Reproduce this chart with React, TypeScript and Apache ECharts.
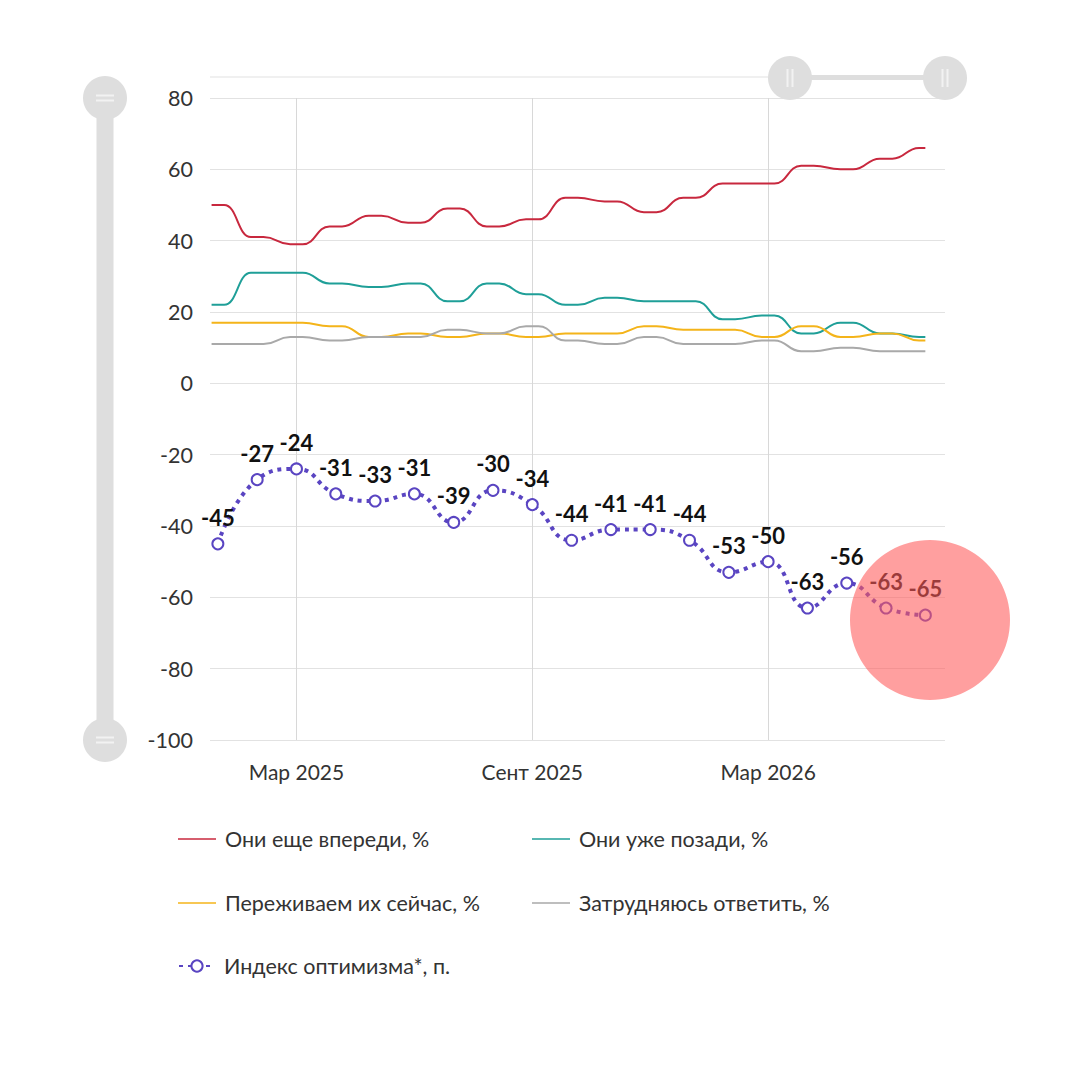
import React, { useEffect, useRef } from 'react';
import * as echarts from 'echarts';

// Months: Jan 2025 … Jul 2026 (one survey per month)
const MONTHS = [
  'Янв 2025', 'Фев 2025', 'Мар 2025', 'Апр 2025', 'Май 2025', 'Июн 2025', 'Июл 2025',
  'Авг 2025', 'Сент 2025', 'Окт 2025', 'Ноя 2025', 'Дек 2025', 'Янв 2026', 'Фев 2026',
  'Мар 2026', 'Апр 2026', 'Май 2026', 'Июн 2026', 'Июл 2026',
];
const TICK_MONTHS = ['Мар 2025', 'Сент 2025', 'Мар 2026'];

const AHEAD = [50, 41, 39, 44, 47, 45, 49, 44, 46, 52, 51, 48, 52, 56, 56, 61, 60, 63, 66];
const BEHIND = [22, 31, 31, 28, 27, 28, 23, 28, 25, 22, 24, 23, 23, 18, 19, 14, 17, 14, 13];
const NOW = [17, 17, 17, 16, 13, 14, 13, 14, 13, 14, 14, 16, 15, 15, 13, 16, 13, 14, 12];
const UNSURE = [11, 11, 13, 12, 13, 13, 15, 14, 16, 12, 11, 13, 11, 11, 12, 9, 10, 9, 9];
const INDEX = [-45, -27, -24, -31, -33, -31, -39, -30, -34, -44, -41, -41, -44, -53, -50, -63, -56, -63, -65];

const Y_MIN = -100;
const Y_MAX = 80;
const Y_STEP = 20;

const NAMES = [
  'Они еще впереди, %',
  'Они уже позади, %',
  'Переживаем их сейчас, %',
  'Затрудняюсь ответить, %',
  'Индекс оптимизма*, п.',
];
const COLORS = ['#c8283e', '#1f9f98', '#f4b41a', '#a9a9a9', '#5a45c2'];

const FONT = 'Lato, "Noto Sans", sans-serif';
const HALF = 0.16; // each survey value is held for a short span around its month

const plateau = (vals: number[]) =>
  vals.flatMap((v, i) =>
    i === vals.length - 1 ? [[i - HALF, v], [i, v]] : [[i - HALF, v], [i + HALF, v]]
  );

export default function App() {
  const ref = useRef<HTMLDivElement>(null);

  useEffect(() => {
    if (!ref.current) return;
    const chart = echarts.init(ref.current, undefined, { renderer: 'svg' });

    const tickValues = TICK_MONTHS.map((m) => MONTHS.indexOf(m));

    const lineSeries = [AHEAD, BEHIND, NOW, UNSURE].map((vals, k) => ({
      name: NAMES[k],
      type: 'line',
      data: plateau(vals),
      symbol: 'none',
      smooth: 0.5,
      smoothMonotone: 'x',
      lineStyle: { color: COLORS[k], width: 2 },
      itemStyle: { color: COLORS[k] },
      z: 2,
      ...(k === 0
        ? {
            markLine: {
              silent: true,
              symbol: 'none',
              label: { show: false },
              lineStyle: { color: '#d8d8d8', width: 1, type: 'solid' },
              data: tickValues.map((x) => ({ xAxis: x })),
              z: 1,
            },
          }
        : {}),
    }));

    const legendPos = [
      { left: 178, top: 826 },
      { left: 532, top: 826 },
      { left: 178, top: 890 },
      { left: 532, top: 890 },
      { left: 178, top: 955 },
    ];

    const handle = (cx: number, cy: number, vertical: boolean) => [
      { type: 'circle', shape: { cx, cy, r: 22 }, style: { fill: '#dedede' }, z: 5 },
      ...(vertical
        ? [
            { type: 'rect', shape: { x: cx - 3.5, y: cy - 9, width: 2, height: 18 }, style: { fill: '#f2f2f2' }, z: 6 },
            { type: 'rect', shape: { x: cx + 1.5, y: cy - 9, width: 2, height: 18 }, style: { fill: '#f2f2f2' }, z: 6 },
          ]
        : [
            { type: 'rect', shape: { x: cx - 9, y: cy - 3.5, width: 18, height: 2 }, style: { fill: '#f2f2f2' }, z: 6 },
            { type: 'rect', shape: { x: cx - 9, y: cy + 1.5, width: 18, height: 2 }, style: { fill: '#f2f2f2' }, z: 6 },
          ]),
    ];

    chart.setOption({
      animation: false,
      backgroundColor: '#ffffff',
      textStyle: { fontFamily: FONT },
      grid: { left: 210, right: 135, top: 98, bottom: 340, containLabel: false },
      xAxis: {
        type: 'value',
        min: -0.2,
        max: 18.5,
        axisLine: { show: false },
        axisTick: { show: false },
        splitLine: { show: false },
        axisLabel: {
          customValues: tickValues,
          formatter: (v: number) => MONTHS[Math.round(v)] ?? '',
          color: '#333',
          fontSize: 21,
          fontFamily: FONT,
          margin: 21,
        },
      },
      yAxis: {
        type: 'value',
        min: Y_MIN,
        max: Y_MAX,
        interval: Y_STEP,
        axisLine: { show: false },
        axisTick: { show: false },
        splitLine: { lineStyle: { color: '#e2e2e2', width: 1 } },
        axisLabel: { color: '#333', fontSize: 21.5, fontFamily: FONT, margin: 17 },
      },
      legend: legendPos.map((p, k) => ({
        data: [k === 4 ? { name: NAMES[k] } : { name: NAMES[k], icon: 'rect' }],
        left: p.left,
        top: k === 4 ? p.top : p.top + 2,
        padding: 0,
        itemWidth: k === 4 ? 36 : 38,
        itemHeight: k === 4 ? 14 : 1.5,
        selectedMode: false,
        textStyle: { color: '#333', fontSize: 21.5, fontFamily: FONT, padding: [0, 0, 0, 4] },
      })),
      series: [
        ...lineSeries,
        {
          name: NAMES[4],
          type: 'line',
          data: INDEX.map((v, i) => [i, v]),
          smooth: 0.5,
          symbol: 'emptyCircle',
          symbolSize: 11,
          showSymbol: true,
          lineStyle: { color: COLORS[4], width: 4, type: [4, 5] },
          itemStyle: { color: COLORS[4], borderWidth: 2.5, borderColor: COLORS[4] },
          label: {
            show: true,
            position: 'top',
            distance: 9,
            color: '#111',
            fontWeight: 'bold',
            fontSize: 22,
            fontFamily: FONT,
          },
          z: 4,
        },
      ],
      graphic: [
        // vertical zoom slider on the left
        { type: 'rect', shape: { x: 96.5, y: 98, width: 17, height: 642 }, style: { fill: '#dedede' }, z: 4 },
        ...handle(105, 98, false),
        ...handle(105, 740, false),
        // horizontal zoom slider at the top
        { type: 'line', shape: { x1: 210, y1: 77, x2: 945, y2: 77 }, style: { stroke: '#f0f0f0', lineWidth: 2 }, z: 3 },
        { type: 'rect', shape: { x: 790, y: 75, width: 155, height: 5 }, style: { fill: '#dedede' }, z: 4 },
        ...handle(790, 78, true),
        ...handle(945, 78, true),
        // highlight circle
        { type: 'circle', shape: { cx: 930, cy: 620, r: 80 }, style: { fill: 'rgba(255, 90, 90, 0.58)' }, z: 100 },
      ],
    });

    return () => chart.dispose();
  }, []);

  return (
    <div
      ref={ref}
      style={{ position: 'fixed', left: 0, top: 0, width: 1080, height: 1080, background: '#fff' }}
    />
  );
}
